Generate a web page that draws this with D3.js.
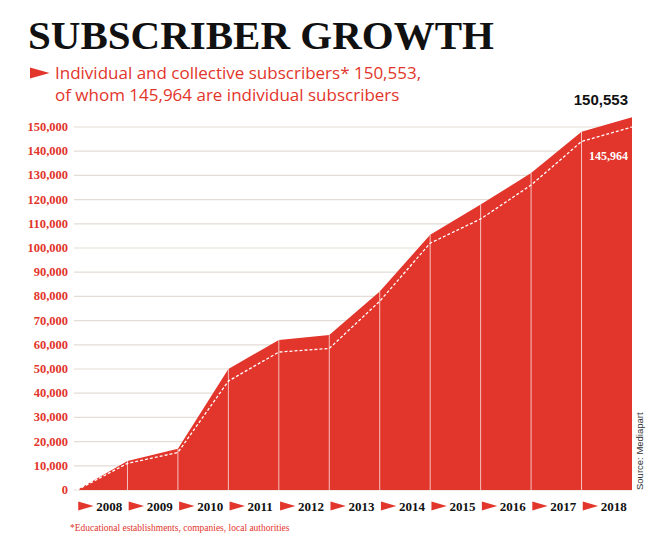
<!DOCTYPE html>
<html><head><meta charset="utf-8">
<script src="https://cdn.jsdelivr.net/npm/d3@7"></script>
<style>body{margin:0;background:#fff}</style>
</head><body><svg id="c" width="661" height="547"></svg>
<script>
const years = ["2008","2009","2010","2011","2012","2013","2014","2015","2016","2017","2018"];
const total = [0, 12000, 17000, 50000, 62000, 64000, 82000, 105500, 118000, 131000, 148000, 154000];
const individual = [0, 11000, 15500, 45000, 57000, 58500, 78000, 102000, 112000, 126000, 144000, 150000];
const yTicks = d3.range(0, 150001, 10000);

const red = "#e2352b";
const svg = d3.select("#c");
const x = d3.scaleLinear().domain([0, 11]).range([77, 632]);
const y = d3.scaleLinear().domain([0, 150000]).range([490, 127]);

svg.append("text").attr("x", 28).attr("y", 49).text("SUBSCRIBER GROWTH")
  .attr("font-family", "Liberation Serif").attr("font-weight", "bold").attr("font-size", 41).attr("fill", "#111");

const tri = (g, cx, cy, s) => g.append("path")
  .attr("d", `M${cx},${cy - s * 0.4}L${cx + s * 1.4},${cy}L${cx},${cy + s * 0.4}Z`).attr("fill", red);

tri(svg, 30, 73, 14);
const sub = svg.append("g").attr("font-family", "Open Sans").attr("font-size", 17).attr("fill", red);
sub.append("text").attr("x", 55).attr("y", 79).text("Individual and collective subscribers* 150,553,");
sub.append("text").attr("x", 55).attr("y", 101).text("of whom 145,964 are individual subscribers");

svg.append("g").selectAll("line").data(yTicks).join("line")
  .attr("x1", 74).attr("x2", 632).attr("y1", y).attr("y2", y)
  .attr("stroke", "#e3ddd6").attr("stroke-width", 1.2);

svg.append("g").selectAll("text").data(yTicks).join("text")
  .attr("x", 68).attr("y", d => y(d) + 4).attr("text-anchor", "end")
  .attr("font-family", "Liberation Serif").attr("font-weight", "bold").attr("font-size", 12.5).attr("fill", red)
  .text(d => d3.format(",")(d));

const area = d3.area().x((d, i) => x(i)).y0(y(0)).y1(d => y(d));
svg.append("path").datum(total).attr("d", area).attr("fill", red);

svg.append("g").selectAll("line").data(d3.range(1, 11)).join("line")
  .attr("x1", x).attr("x2", x).attr("y1", y(0)).attr("y2", (i) => y(total[i]))
  .attr("stroke", "#fff").attr("stroke-opacity", 0.7).attr("stroke-width", 1);

svg.append("path").datum(individual)
  .attr("d", d3.line().x((d, i) => x(i)).y(d => y(d)))
  .attr("fill", "none").attr("stroke", "#fff").attr("stroke-width", 1.3).attr("stroke-dasharray", "3,2");

svg.append("text").attr("x", 628).attr("y", 105).attr("text-anchor", "end")
  .attr("font-family", "Liberation Sans").attr("font-weight", "bold").attr("font-size", 15).attr("fill", "#111").text("150,553");
svg.append("text").attr("x", 628).attr("y", 160).attr("text-anchor", "end")
  .attr("font-family", "Liberation Serif").attr("font-weight", "bold").attr("font-size", 12).attr("fill", "#fff").text("145,964");

const xl = svg.append("g");
years.forEach((yr, i) => {
  const cx = (x(i) + x(i + 1)) / 2;
  tri(xl, cx - 24, 506, 11);
  xl.append("text").attr("x", cx - 6).attr("y", 511).text(yr)
    .attr("font-family", "Liberation Serif").attr("font-weight", "bold").attr("font-size", 13).attr("fill", "#111");
});

svg.append("text").attr("x", 70).attr("y", 531).text("*Educational establishments, companies, local authorities")
  .attr("font-family", "Liberation Serif").attr("font-size", 9.5).attr("fill", red);

svg.append("text").attr("transform", "translate(643,490) rotate(-90)").text("Source: Mediapart")
  .attr("font-family", "Liberation Sans").attr("font-size", 9.5).attr("fill", "#333");
</script></body></html>
